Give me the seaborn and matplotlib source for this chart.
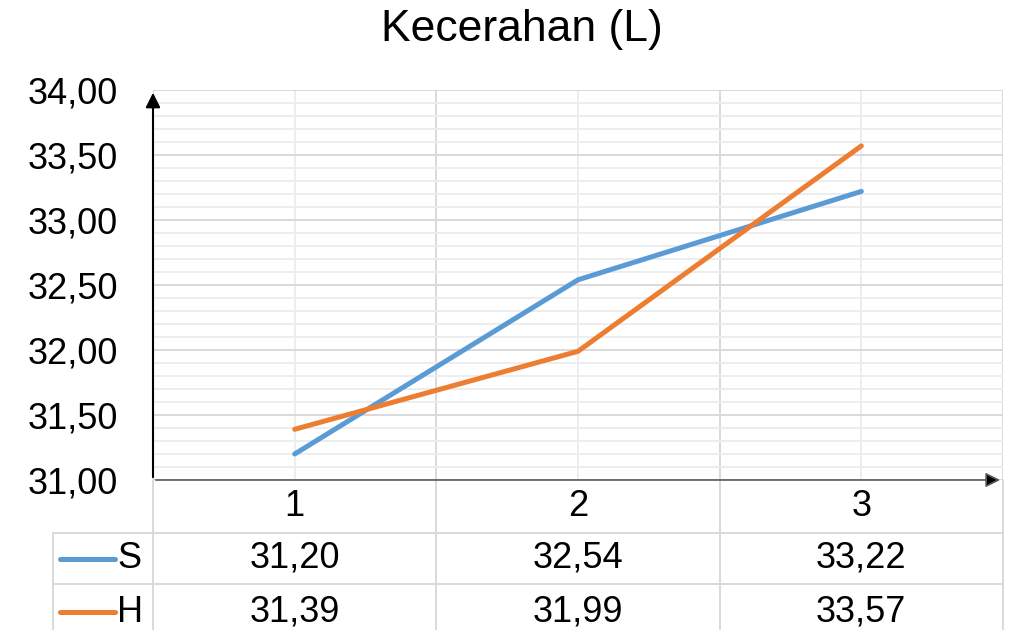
import matplotlib
matplotlib.use("Agg")
import matplotlib.pyplot as plt
import matplotlib.transforms as mtransforms
import numpy as np
import pandas as pd
import seaborn as sns

# DATA
categories = [1, 2, 3]
series_names = ["S", "H"]
s_values = [31.20, 32.54, 33.22]
h_values = [31.39, 31.99, 33.57]
title = "Kecerahan (L)"

COLORS = {"S": "#5B9BD5", "H": "#ED7D31"}

sns.set_theme(style="white")
plt.rcParams["font.family"] = ["Liberation Sans", "DejaVu Sans"]
plt.rcParams["text.color"] = "black"
plt.rcParams["xtick.color"] = "black"
plt.rcParams["ytick.color"] = "black"

df = pd.DataFrame({
    "kategori": categories * 2,
    "nilai": s_values + h_values,
    "seri": ["S"] * 3 + ["H"] * 3,
})

def fmt(v):
    return f"{v:.2f}".replace(".", ",")

fig = plt.figure(figsize=(10.1, 6.3), dpi=100)
W, H = 1010, 630
ax = fig.add_axes([153 / W, 1 - 480 / H, 850 / W, 390 / H])

sns.lineplot(data=df, x="kategori", y="nilai", hue="seri", palette=COLORS,
             linewidth=3.6, ax=ax, legend=False, solid_capstyle="round", zorder=5)

ax.set_xlim(0.5, 3.5)
ax.set_ylim(31.0, 34.0)
ax.set_xlabel("")
ax.set_ylabel("")

# grid: major every 0.5, minor every 0.1 / category centres
ax.set_yticks(np.arange(31.0, 34.01, 0.5))
ax.set_yticks(np.arange(31.0, 34.01, 0.1), minor=True)
ax.set_yticklabels([fmt(v) for v in np.arange(31.0, 34.01, 0.5)], fontsize=26)
ax.set_xticks([0.5, 1.5, 2.5, 3.5])
ax.set_xticks(categories, minor=True)
ax.set_xticklabels([])
ax.tick_params(axis="both", which="both", length=0)
ax.tick_params(axis="y", pad=25)
ax.grid(True, which="major", color="#d9d9d9", linewidth=1.4)
ax.grid(True, which="minor", color="#ededed", linewidth=1.4)
ax.set_axisbelow(True)
for sp in ax.spines.values():
    sp.set_visible(False)

# axis arrows
ax.annotate("", xy=(0, 1.0), xytext=(0, 0.0), xycoords="axes fraction",
            arrowprops=dict(arrowstyle="-|>", color="black", lw=1.5, mutation_scale=22))
ax.annotate("", xy=(1.0, 0), xytext=(0, 0), xycoords="axes fraction",
            arrowprops=dict(arrowstyle="-|>", color="#595959", lw=1.2, mutation_scale=22,
                            fc="black"))

fig.text(0.517, 1 - 30 / H, title, ha="center", va="center", fontsize=32)

# data table below the plot
trans = mtransforms.blended_transform_factory(ax.transData, ax.transAxes)
px = 1 / 390.0
row_edges = [0, -53 * px, -104 * px, -160 * px]
left_edge = 0.5 - 100 / (850 / 3)
grid_kw = dict(color="#d9d9d9", linewidth=1.4, transform=trans, clip_on=False)
for xv in [0.5, 1.5, 2.5, 3.5]:
    ax.plot([xv, xv], [row_edges[0], row_edges[-1]], **grid_kw)
ax.plot([left_edge, left_edge], [row_edges[1], row_edges[-1]], **grid_kw)
for yv in row_edges[1:3]:
    ax.plot([left_edge, 3.5], [yv, yv], **grid_kw)

row_mid = [(row_edges[i] + row_edges[i + 1]) / 2 for i in range(3)]
for c in categories:
    ax.text(c, row_mid[0], str(c), ha="center", va="center", fontsize=26,
            transform=trans)
for r, (name, vals) in enumerate(zip(series_names, [s_values, h_values])):
    y = row_mid[r + 1]
    for c, v in zip(categories, vals):
        ax.text(c, y, fmt(v), ha="center", va="center", fontsize=26, transform=trans)
    x0 = left_edge + 7 / (850 / 3)
    x1 = left_edge + 62 / (850 / 3)
    ax.plot([x0, x1], [y, y], color=COLORS[name], linewidth=3.6,
            solid_capstyle="round", transform=trans, clip_on=False)
    ax.text(x1 + 2 / (850 / 3), y, name, ha="left", va="center", fontsize=26,
            transform=trans)

fig.savefig("out.png", dpi=100)
